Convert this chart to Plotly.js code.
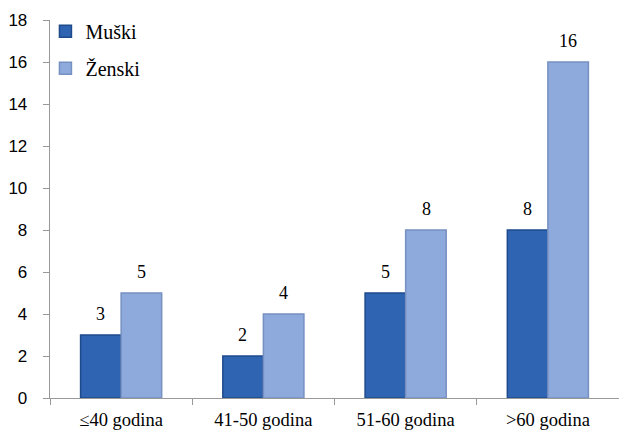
<!DOCTYPE html>
<html><head><meta charset="utf-8">
<script src="https://cdn.plot.ly/plotly-3.0.1.min.js"></script></head>
<body style="margin:0">
<div id="p" style="width:619px;height:432px"></div>
<script>
var categories = ["≤40 godina", "41-50 godina", "51-60 godina", ">60 godina"];
var muski = [3, 2, 5, 8];
var zenski = [5, 4, 8, 16];
var seriesNames = ["Muški", "Ženski"];
var yTicks = [0, 2, 4, 6, 8, 10, 12, 14, 16, 18];

var traces = [
  {
    type: "bar", name: seriesNames[0], x: categories, y: muski, legendgroup: "a",
    marker: {color: "#2F64B2", line: {color: "#1E4A8C", width: 1.5}}
  },
  {
    type: "bar", name: seriesNames[1], x: categories, y: zenski, legendgroup: "b",
    marker: {color: "#8EA9DB", line: {color: "#7690C2", width: 1.5}}
  }
];

var annotations = [];
[[muski, -20.5], [zenski, 20.5]].forEach(function (s) {
  s[0].forEach(function (v, i) {
    annotations.push({
      x: categories[i], y: v, text: String(v), showarrow: false,
      xshift: s[1], yshift: 21, yanchor: "middle",
      font: {family: "Liberation Serif", size: 18, color: "#000"}
    });
  });
});

var layout = {
  width: 619, height: 432,
  margin: {l: 50, r: 0, t: 20, b: 34},
  barmode: "group", bargap: 0.43, bargroupgap: 0,
  showlegend: true,
  annotations: annotations,
  legend: {
    x: -0.008, y: 1.022, xanchor: "left", yanchor: "top",
    font: {family: "Liberation Serif", size: 20, color: "#000"},
    traceorder: "grouped", tracegroupgap: 8, bgcolor: "rgba(0,0,0,0)"
  },
  xaxis: {
    type: "category", showgrid: false, showline: true, linecolor: "#999", linewidth: 1.3,
    ticks: "outside", tickson: "boundaries", ticklen: 6, tickcolor: "#999",
    ticklabelstandoff: 4,
    tickfont: {family: "Liberation Serif", size: 18.5, color: "#000"}, zeroline: false
  },
  yaxis: {
    range: [0, 18], tickvals: yTicks, showgrid: false, showline: true, linecolor: "#999", linewidth: 1.3,
    ticks: "outside", ticklen: 6, tickcolor: "#999", ticklabelstandoff: 12,
    tickfont: {family: "Liberation Sans", size: 17, color: "#000"}, zeroline: false
  }
};

Plotly.newPlot("p", traces, layout, {staticPlot: true});
</script>
</body></html>
